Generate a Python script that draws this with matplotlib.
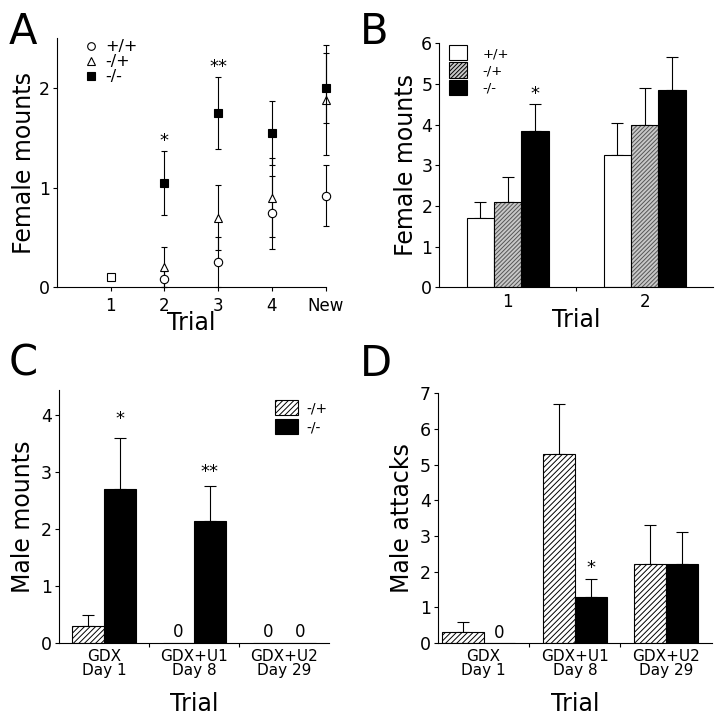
import numpy as np
import matplotlib
matplotlib.use("Agg")
import matplotlib.pyplot as plt
from matplotlib.patches import Patch
from matplotlib.lines import Line2D

plt.rcParams["font.family"] = ["DejaVu Sans"]
plt.rcParams["hatch.linewidth"] = 0.7

# ---------------- data ----------------
# A: female mounts over trials (points with SEM)
a_trials = ["1", "2", "3", "4", "New"]
a_trial1_all = 0.1
a_wt = [0.08, 0.25, 0.75, 0.92]
a_wt_err = [0.08, 0.25, 0.37, 0.31]
a_het = [0.2, 0.7, 0.9, 1.88]
a_het_err = [0.2, 0.33, 0.4, 0.55]
a_ko = [1.05, 1.75, 1.55, 2.0]
a_ko_err = [0.32, 0.36, 0.32, 0.35]

# B: female mounts per trial (bars)
b_trials = ["1", "2"]
b_wt = [1.7, 3.25]
b_wt_err = [0.4, 0.8]
b_het = [2.1, 4.0]
b_het_err = [0.6, 0.9]
b_ko = [3.85, 4.85]
b_ko_err = [0.65, 0.8]

# C / D: male behaviour after GDX
cd_trials = ["GDX\nDay 1", "GDX+U1\nDay 8", "GDX+U2\nDay 29"]
c_het = [0.3, 0.0, 0.0]
c_het_err = [0.2, 0.0, 0.0]
c_ko = [2.7, 2.15, 0.0]
c_ko_err = [0.9, 0.6, 0.0]
d_het = [0.3, 5.3, 2.2]
d_het_err = [0.3, 1.4, 1.1]
d_ko = [0.0, 1.3, 2.2]
d_ko_err = [0.0, 0.5, 0.9]

fig = plt.figure(figsize=(7.19, 7.2), dpi=100)


def style_axes(ax):
    for s in ("top", "right"):
        ax.spines[s].set_visible(False)
    ax.tick_params(axis="y", direction="out", length=3, width=0.8, labelsize=12.5, pad=2)
    ax.tick_params(axis="x", which="major", length=0, labelsize=11, pad=4)
    ax.tick_params(axis="x", which="minor", direction="out", length=3, width=0.8)


def bars(ax, x, h, err, w, kind):
    if kind == "white":
        ax.bar(x, h, w, color="white", edgecolor="black", lw=0.8, zorder=2)
    elif kind == "black":
        ax.bar(x, h, w, color="black", edgecolor="black", lw=0.8, zorder=2)
    elif kind == "grey":
        ax.bar(x, h, w, color="#c8c8c8", edgecolor="#555555", lw=0, hatch="////////", zorder=2)
        ax.bar(x, h, w, fill=False, edgecolor="black", lw=0.8, zorder=3)
    else:
        ax.bar(x, h, w, color="white", edgecolor="black", lw=0.8, hatch="//////", zorder=2)
    h = np.asarray(h)
    err = np.asarray(err)
    m = err > 0
    ax.errorbar(np.asarray(x)[m], h[m], yerr=[np.zeros(m.sum()), err[m]], fmt="none",
                ecolor="black", elinewidth=0.8, capsize=4.5, capthick=0.8, zorder=1)


def points(ax, x, y, err, marker, face, z):
    cont = ax.errorbar(x, y, yerr=err, fmt=marker, mfc=face, mec="black", ms=6, mew=0.8,
                       ecolor="black", elinewidth=0.8, capsize=2.5, capthick=0.8, zorder=z)
    for art in cont.get_children():
        art.set_clip_on(False)


# ---------------- A ----------------
ax = fig.add_axes([0.079, 0.601, 0.374, 0.346])
style_axes(ax)
xa = np.arange(2, 6)
points(ax, xa, a_wt, a_wt_err, "o", "white", 3)
points(ax, xa, a_het, a_het_err, "^", "white", 3)
points(ax, xa, a_ko, a_ko_err, "s", "black", 4)
ax.plot([1], [a_trial1_all], "s", mfc="white", mec="black", ms=6, mew=0.8, zorder=4)
ax.set_xlim(0, 5)
ax.set_ylim(0, 2.5)
ax.set_yticks([0, 1, 2])
ax.set_xticks(np.arange(1, 6))
ax.set_xticklabels(a_trials)
ax.tick_params(axis="x", which="major", length=3, direction="out", width=0.8, labelsize=12)
ax.text(2, 1.42, "*", ha="center", fontsize=13)
ax.text(3, 2.16, "**", ha="center", fontsize=13)
ax.set_ylabel("Female mounts", fontsize=17, labelpad=2)
ax.set_xlabel("Trial", fontsize=17, labelpad=-3)
hd = [Line2D([], [], ls="none", marker="o", mfc="white", mec="black", ms=5.5, mew=0.8),
      Line2D([], [], ls="none", marker="^", mfc="white", mec="black", ms=5.5, mew=0.8),
      Line2D([], [], ls="none", marker="s", mfc="black", mec="black", ms=5.5, mew=0.8)]
ax.legend(hd, ["+/+", "-/+", "-/-"], loc="upper left", bbox_to_anchor=(0.06, 1.04),
          frameon=False, fontsize=11.5, handlelength=0.8, handletextpad=0.5,
          labelspacing=0.0, borderpad=0.2)
fig.text(0.012, 0.955, "A", fontsize=30, va="center")

# ---------------- B ----------------
ax = fig.add_axes([0.611, 0.601, 0.381, 0.339])
style_axes(ax)
xb = np.arange(1, 3)
w = 0.2
bars(ax, xb - w, b_wt, b_wt_err, w, "white")
bars(ax, xb, b_het, b_het_err, w, "grey")
bars(ax, xb + w, b_ko, b_ko_err, w, "black")
ax.set_xlim(0.5, 2.5)
ax.set_ylim(0, 6)
ax.set_yticks(range(7))
ax.set_xticks(xb)
ax.set_xticklabels(b_trials, fontsize=12)
ax.set_xticks([1.5], minor=True)
ax.text(1.2, 4.62, "*", ha="center", fontsize=13)
ax.set_ylabel("Female mounts", fontsize=17, labelpad=2)
ax.set_xlabel("Trial", fontsize=17, labelpad=-2)
hd = [Patch(facecolor="white", edgecolor="black", lw=0.8),
      Patch(facecolor="#c8c8c8", edgecolor="black", lw=0.8, hatch="////////"),
      Patch(facecolor="black", edgecolor="black", lw=0.8)]
ax.legend(hd, ["+/+", "-/+", "-/-"], loc="upper left", bbox_to_anchor=(0.0, 1.03),
          frameon=False, fontsize=9.5, handlelength=1.4, handleheight=1.4,
          handletextpad=1.2, labelspacing=0.15, borderpad=0.2)
fig.text(0.5, 0.955, "B", fontsize=30, va="center")

# ---------------- C ----------------
ax = fig.add_axes([0.082, 0.107, 0.376, 0.351])
style_axes(ax)
xc = np.arange(1, 4)
w = 0.35
bars(ax, xc - w / 2, c_het, c_het_err, w, "hatch")
bars(ax, xc + w / 2, c_ko, c_ko_err, w, "black")
for xi, hv in zip(xc - w / 2, c_het):
    if hv == 0:
        ax.text(xi, 0.19, "0", ha="center", va="center", fontsize=12)
for xi, hv in zip(xc + w / 2, c_ko):
    if hv == 0:
        ax.text(xi, 0.19, "0", ha="center", va="center", fontsize=12)
ax.set_xlim(0.5, 3.5)
ax.set_ylim(0, 4.44)
ax.set_yticks(range(5))
ax.set_xticks(xc)
ax.set_xticklabels(cd_trials, linespacing=0.95)
ax.set_xticks([1.5, 2.5], minor=True)
ax.text(1 + w / 2, 3.85, "*", ha="center", fontsize=13)
ax.text(2 + w / 2, 2.92, "**", ha="center", fontsize=13)
ax.set_ylabel("Male mounts", fontsize=17, labelpad=4)
ax.set_xlabel("Trial", fontsize=17, labelpad=10)
hd = [Patch(facecolor="white", edgecolor="black", lw=0.8, hatch="//////"),
      Patch(facecolor="black", edgecolor="black", lw=0.8)]
ax.legend(hd, ["-/+", "-/-"], loc="upper right", bbox_to_anchor=(1.03, 1.0),
          frameon=False, fontsize=10, handlelength=1.7, handleheight=1.3,
          handletextpad=0.6, labelspacing=0.3, borderpad=0.2)
fig.text(0.012, 0.495, "C", fontsize=30, va="center")

# ---------------- D ----------------
ax = fig.add_axes([0.609, 0.107, 0.381, 0.347])
style_axes(ax)
wd = np.array([0.45, w, w])  # first hatched bar is drawn wider in the original
bars(ax, xc - wd / 2, d_het, d_het_err, wd, "hatch")
bars(ax, xc + w / 2, d_ko, d_ko_err, w, "black")
for xi, hv in zip(xc + w / 2, d_ko):
    if hv == 0:
        ax.text(xi, 0.28, "0", ha="center", va="center", fontsize=12)
ax.set_xlim(0.5, 3.5)
ax.set_ylim(0, 7)
ax.set_yticks(range(8))
ax.set_xticks(xc)
ax.set_xticklabels(cd_trials, linespacing=0.95)
ax.set_xticks([1.5, 2.5], minor=True)
ax.text(2 + w / 2, 1.95, "*", ha="center", fontsize=13)
ax.set_ylabel("Male attacks", fontsize=17, labelpad=4)
ax.set_xlabel("Trial", fontsize=17, labelpad=10)
fig.text(0.5, 0.495, "D", fontsize=30, va="center")

fig.savefig("out.png", dpi=100)
